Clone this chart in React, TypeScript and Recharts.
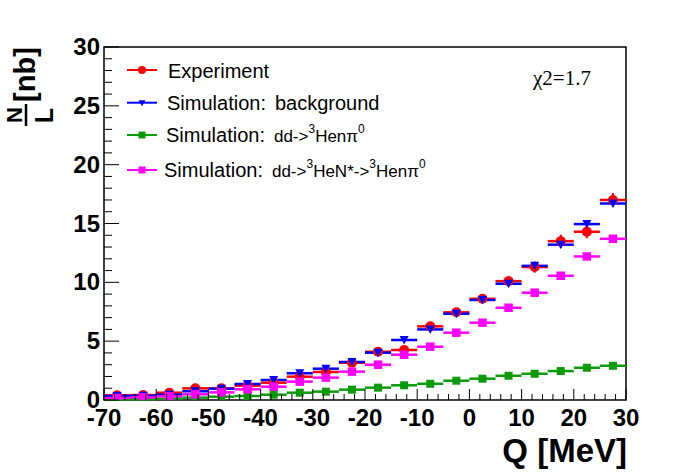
import React from 'react'
import { ComposedChart, Scatter, XAxis, YAxis, ErrorBar, ReferenceArea, Label } from 'recharts'

// bin centres, 5 MeV wide
const qBins = [
  -67.5, -62.5, -57.5, -52.5, -47.5, -42.5, -37.5, -32.5, -27.5, -22.5,
  -17.5, -12.5, -7.5, -2.5, 2.5, 7.5, 12.5, 17.5, 22.5, 27.5,
]
const BIN_HALF = 2.5

const experiment = [
  0.4, 0.42, 0.62, 0.99, 0.99, 1.22, 1.47, 1.98, 2.38, 3.17,
  4.1, 4.25, 6.26, 7.45, 8.6, 10.1, 11.3, 13.5, 14.3, 17.0,
]
const experimentErr = [
  0.1, 0.1, 0.12, 0.15, 0.15, 0.17, 0.18, 0.2, 0.22, 0.25,
  0.28, 0.3, 0.35, 0.38, 0.4, 0.45, 0.48, 0.55, 0.55, 0.6,
]
const background = [
  0.35, 0.36, 0.45, 0.74, 0.96, 1.36, 1.7, 2.27, 2.66, 3.23,
  4.02, 5.1, 6.0, 7.33, 8.5, 9.88, 11.4, 13.2, 14.95, 16.7,
]
const directPion = [
  0.05, 0.06, 0.11, 0.2, 0.28, 0.34, 0.45, 0.62, 0.71, 0.88,
  1.05, 1.25, 1.38, 1.64, 1.81, 2.06, 2.23, 2.46, 2.74, 2.91,
]
const nStarPion = [
  0.17, 0.23, 0.31, 0.48, 0.65, 0.91, 1.13, 1.56, 1.9, 2.41,
  3.0, 3.85, 4.53, 5.72, 6.57, 7.84, 9.12, 10.56, 12.2, 13.7,
]

const xMajor = [-70, -60, -50, -40, -30, -20, -10, 0, 10, 20, 30]
const yMajor = [0, 5, 10, 15, 20, 25, 30]
const xTicks = Array.from({ length: 51 }, (_, i) => -70 + 2 * i)
const yTicks = Array.from({ length: 31 }, (_, i) => i)

const RED = '#ff0000'
const BLUE = '#0000ff'
const GREEN = '#0a9a0a'
const MAGENTA = '#ff00ff'
const FONT = '"Liberation Sans", Arial, Helvetica, sans-serif'

const table = (vals: number[], errs?: number[]) =>
  qBins.map((q, i) => ({ q, v: vals[i], ex: BIN_HALF, ey: errs ? errs[i] : 0 }))

const expData = table(experiment, experimentErr)
const bgData = table(background)
const directData = table(directPion)
const nStarData = table(nStarPion)

const circle = (p: any) => <circle cx={p.cx} cy={p.cy} r={5} fill={RED} />
const triangle = (p: any) => (
  <polygon
    points={`${p.cx - 4.5},${p.cy - 4} ${p.cx + 4.5},${p.cy - 4} ${p.cx},${p.cy + 4.5}`}
    fill={BLUE}
  />
)
const square = (color: string, s: number) => (p: any) =>
  <rect x={p.cx - s / 2} y={p.cy - s / 2} width={s} height={s} fill={color} />

function XTick(props: any) {
  const { x, y, payload } = props
  const major = xMajor.includes(payload.value)
  return (
    <g>
      <line x1={x} y1={y} x2={x} y2={y - (major ? 11 : 6)} stroke="#000" strokeWidth={1} />
      {major && (
        <text x={x} y={y + 26} textAnchor="middle" fontFamily={FONT} fontWeight="bold" fontSize={24} fill="#000">
          {payload.value}
        </text>
      )}
    </g>
  )
}

function YTick(props: any) {
  const { x, y, payload } = props
  const major = yMajor.includes(payload.value)
  return (
    <g>
      <line x1={x} y1={y} x2={x + (major ? 15 : 8)} y2={y} stroke="#000" strokeWidth={1} />
      {major && (
        <text x={x - 4} y={y + 8} textAnchor="end" fontFamily={FONT} fontWeight="bold" fontSize={24} fill="#000">
          {payload.value}
        </text>
      )}
    </g>
  )
}

const legendRows = [
  { y: 70, color: RED, kind: 'circle' },
  { y: 102.7, color: BLUE, kind: 'triangle' },
  { y: 135, color: GREEN, kind: 'square' },
  { y: 170, color: MAGENTA, kind: 'square' },
]

function LegendMarker({ kind, color, y }: { kind: string; color: string; y: number }) {
  const cx = 142
  if (kind === 'circle') return <circle cx={cx} cy={y} r={4} fill={color} />
  if (kind === 'triangle')
    return <polygon points={`${cx - 3.5},${y - 2.5} ${cx + 3.5},${y - 2.5} ${cx},${y + 3.5}`} fill={color} />
  return <rect x={cx - 3.5} y={y - 3.5} width={7} height={7} fill={color} />
}

function Overlay() {
  return (
    <svg width={696} height={472} style={{ position: 'absolute', left: 0, top: 0, pointerEvents: 'none' }}>
      {legendRows.map((r, i) => (
        <g key={i}>
          <line x1={127} y1={r.y} x2={157} y2={r.y} stroke={r.color} strokeWidth={2} />
          <LegendMarker kind={r.kind} color={r.color} y={r.y} />
        </g>
      ))}
      <g fontFamily={FONT} fontSize={20} fill="#000">
        <text x={168} y={77.5}>Experiment</text>
        <text x={167} y={109.5}>
          Simulation:<tspan dx={9}>background</tspan>
        </text>
        <text x={166} y={142}>
          Simulation:
          <tspan dx={9} fontSize={17}>dd-&gt;</tspan>
          <tspan fontSize={12} dy={-9}>3</tspan>
          <tspan fontSize={17} dy={9}>Henπ</tspan>
          <tspan fontSize={12} dy={-9}>0</tspan>
        </text>
        <text x={164} y={177}>
          Simulation:
          <tspan dx={9} fontSize={17}>dd-&gt;</tspan>
          <tspan fontSize={12} dy={-9}>3</tspan>
          <tspan fontSize={17} dy={9}>HeN*-&gt;</tspan>
          <tspan fontSize={12} dy={-9}>3</tspan>
          <tspan fontSize={17} dy={9}>Henπ</tspan>
          <tspan fontSize={12} dy={-9}>0</tspan>
        </text>
      </g>
      <text x={533} y={85} fontFamily='"Liberation Serif", "Times New Roman", serif' fontSize={21} fill="#000">
        χ2=1.7
      </text>
      {/* y title: N over L, then [nb], rotated */}
      <g transform="rotate(-90)" fontFamily={FONT} fontWeight="bold" fill="#000">
        <text x={-115} y={22} textAnchor="middle" fontSize={22}>N</text>
        <text x={-115.5} y={53} textAnchor="middle" fontSize={25}>L</text>
        <text x={-74.5} y={35} textAnchor="middle" fontSize={29}>[nb]</text>
      </g>
      <line x1={26} y1={104} x2={26} y2={126} stroke="#000" strokeWidth={2.5} />
    </svg>
  )
}

export default function App() {
  return (
    <div style={{ position: 'absolute', left: 0, top: 0, width: 696, height: 472, background: '#fff' }}>
      <ComposedChart width={696} height={472} margin={{ top: 47, right: 70, bottom: 0, left: 0 }}>
        <XAxis
          type="number"
          dataKey="q"
          domain={[-70, 30]}
          ticks={xTicks}
          interval={0}
          axisLine={false}
          tickLine={false}
          tickSize={0}
          tickMargin={0}
          height={72}
          tick={<XTick />}
          allowDataOverflow
        >
          <Label
            content={() => (
              <text x={627} y={462} textAnchor="end" fontFamily={FONT} fontWeight="bold" fontSize={33} fill="#000">
                Q [MeV]
              </text>
            )}
          />
        </XAxis>
        <YAxis
          type="number"
          dataKey="v"
          domain={[0, 30]}
          ticks={yTicks}
          interval={0}
          axisLine={false}
          tickLine={false}
          tickSize={0}
          tickMargin={0}
          width={104}
          tick={<YTick />}
          allowDataOverflow
        />
        <Scatter data={expData} fill={RED} shape={circle} isAnimationActive={false}>
          <ErrorBar dataKey="ex" direction="x" width={0} stroke={RED} strokeWidth={2.5} />
          <ErrorBar dataKey="ey" direction="y" width={0} stroke={RED} strokeWidth={2} />
        </Scatter>
        <Scatter data={bgData} fill={BLUE} shape={triangle} isAnimationActive={false}>
          <ErrorBar dataKey="ex" direction="x" width={0} stroke={BLUE} strokeWidth={2.5} />
        </Scatter>
        <Scatter data={directData} fill={GREEN} shape={square(GREEN, 8)} isAnimationActive={false}>
          <ErrorBar dataKey="ex" direction="x" width={0} stroke={GREEN} strokeWidth={2.5} />
        </Scatter>
        <Scatter data={nStarData} fill={MAGENTA} shape={square(MAGENTA, 8.5)} isAnimationActive={false}>
          <ErrorBar dataKey="ex" direction="x" width={0} stroke={MAGENTA} strokeWidth={2.5} />
        </Scatter>
        <ReferenceArea x1={-70} x2={30} y1={0} y2={30} fill="none" stroke="#000" strokeWidth={1.5} />
      </ComposedChart>
      <Overlay />
    </div>
  )
}
